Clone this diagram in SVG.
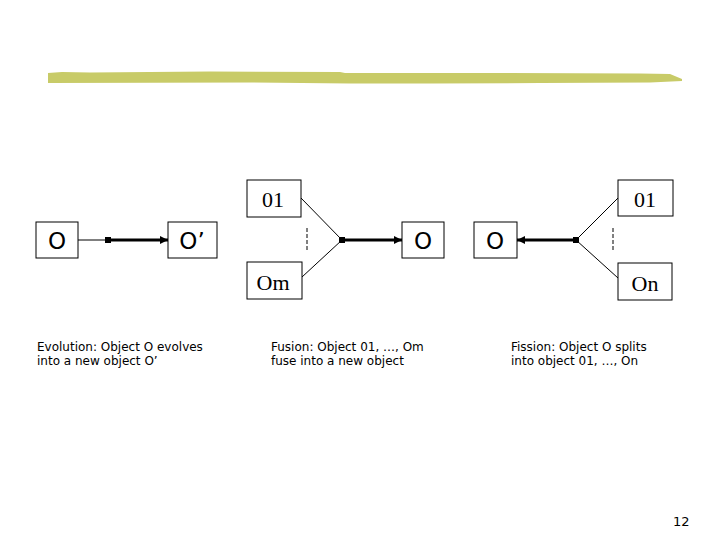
<svg xmlns="http://www.w3.org/2000/svg" width="720" height="540" viewBox="0 0 720 540">
<style>
.box{fill:#fff;stroke:#000;stroke-width:1}
.sans{font-family:"DejaVu Sans","Verdana",sans-serif;font-size:23px;fill:#000;text-anchor:middle}
.serif{font-family:"Liberation Serif","Times New Roman",serif;font-size:22px;fill:#000;text-anchor:middle}
.cap{font-family:"DejaVu Sans","Verdana",sans-serif;font-size:12px;fill:#000}
.thin{stroke:#000;stroke-width:1;fill:none}
.thick{stroke:#000;stroke-width:3;fill:none}
.dash{stroke:#000;stroke-width:1;stroke-dasharray:4,2;fill:none}
</style>
<defs>
<marker id="ah" viewBox="0 0 10 10" refX="10" refY="5" markerWidth="2.7" markerHeight="2.7" orient="auto" markerUnits="strokeWidth">
<path d="M0,0 L10,5 L0,10 z" fill="#000"/>
</marker>
</defs>
<polygon points="48,73 62,72 90,72.5 210,71.5 340,72 345,73 470,73 640,73.5 670,74 682,79 682,81 650,82.5 540,83 430,83.5 350,83.5 252,82.5 48,83" fill="#c8cb68"/>
<g id="connectors">
<line class="thin" x1="78" y1="240" x2="108" y2="240"/>
<line class="thick" x1="108" y1="240" x2="168" y2="240" marker-end="url(#ah)"/>
<rect x="105" y="237" width="6" height="6" fill="#000"/>
<line class="thin" x1="301" y1="198" x2="342" y2="240"/>
<line class="thin" x1="302" y1="277" x2="342" y2="240"/>
<line class="dash" x1="307" y1="228" x2="307" y2="252"/>
<line class="thick" x1="342" y1="240" x2="402" y2="240" marker-end="url(#ah)"/>
<rect x="339" y="237" width="6" height="6" fill="#000"/>
<line class="thin" x1="618" y1="198" x2="576" y2="240"/>
<line class="thin" x1="618" y1="278" x2="576" y2="240"/>
<line class="dash" x1="613" y1="228" x2="613" y2="252"/>
<line class="thick" x1="576" y1="240" x2="517" y2="240" marker-end="url(#ah)"/>
<rect x="573" y="237" width="6" height="6" fill="#000"/>
</g>
<g id="evo-O"><rect class="box" x="36" y="222" width="42" height="36"/><text class="sans" x="57" y="249">O</text></g>
<g id="evo-O2"><rect class="box" x="168" y="222" width="49" height="36"/><text class="sans" x="192" y="249">O’</text></g>
<g id="fus-01"><rect class="box" x="247" y="180" width="54" height="37"/><text class="serif" x="273" y="207">01</text></g>
<g id="fus-Om"><rect class="box" x="247" y="262" width="55" height="37"/><text class="serif" x="273" y="290">Om</text></g>
<g id="fus-O"><rect class="box" x="402" y="222" width="42" height="36"/><text class="sans" x="423" y="249">O</text></g>
<g id="fis-O"><rect class="box" x="474" y="222" width="43" height="36"/><text class="sans" x="495" y="249">O</text></g>
<g id="fis-01"><rect class="box" x="618" y="180" width="55" height="36"/><text class="serif" x="645" y="207">01</text></g>
<g id="fis-On"><rect class="box" x="618" y="263" width="54" height="37"/><text class="serif" x="645" y="291">On</text></g>
<g id="captions">
<text class="cap" x="37" y="351">Evolution: Object O evolves</text>
<text class="cap" x="37" y="365">into a new object O’</text>
<text class="cap" x="271" y="351">Fusion: Object 01, …, Om</text>
<text class="cap" x="271" y="365">fuse into a new object</text>
<text class="cap" x="511" y="351">Fission: Object O splits</text>
<text class="cap" x="511" y="365">into object 01, …, On</text>
<text class="cap" x="673" y="526" style="font-size:13px">12</text>
</g>
</svg>
